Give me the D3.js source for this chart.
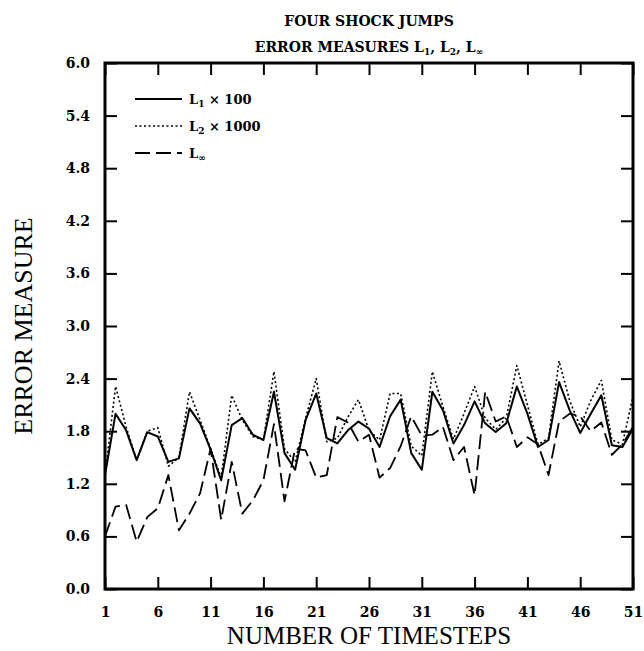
<!DOCTYPE html>
<html>
<head>
<meta charset="utf-8">
<script src="https://cdn.jsdelivr.net/npm/d3@7"></script>
<style>
  html, body { margin: 0; padding: 0; background: #fff; }
  svg { display: block; }
</style>
</head>
<body>
<svg id="chart" width="644" height="651"></svg>
<script>
// ---- data ----
const timesteps = d3.range(1, 52);
const L1x100 = [1.30,2.00,1.81,1.47,1.79,1.74,1.45,1.49,2.06,1.89,
                1.59,1.24,1.87,1.95,1.76,1.70,2.25,1.55,1.36,1.93,
                2.23,1.72,1.66,1.81,1.91,1.83,1.62,1.97,2.16,1.55,
                1.36,2.25,2.04,1.66,1.87,2.14,1.89,1.79,1.89,2.31,
                2.00,1.62,1.70,2.36,2.04,1.78,2.00,2.21,1.64,1.62,1.83];
const L2x1000 = [1.30,2.31,1.85,1.47,1.80,1.84,1.40,1.50,2.25,1.93,
                 1.60,1.27,2.21,1.93,1.74,1.70,2.48,1.60,1.45,1.95,
                 2.40,1.68,1.72,1.96,2.16,1.81,1.70,2.23,2.23,1.63,
                 1.52,2.48,2.08,1.71,2.00,2.31,1.95,1.82,1.95,2.55,
                 2.10,1.65,1.72,2.60,2.15,1.85,2.15,2.38,1.70,1.65,2.20];
const Linf = [0.60,0.94,0.96,0.54,0.82,0.92,1.30,0.67,0.86,1.09,
              1.60,0.79,1.45,0.86,1.01,1.24,1.88,1.00,1.60,1.58,
              1.27,1.30,1.96,1.90,1.68,1.76,1.27,1.38,1.63,1.97,
              1.75,1.76,1.85,1.47,1.62,1.07,2.25,1.91,1.97,1.62,
              1.73,1.65,1.30,1.91,2.00,1.97,1.80,1.90,1.53,1.65,1.85];
const xTicks = [1, 6, 11, 16, 21, 26, 31, 36, 41, 46, 51];
const yTicks = [0.0, 0.6, 1.2, 1.8, 2.4, 3.0, 3.6, 4.2, 4.8, 5.4, 6.0];
const legendItems = [
  {base: "L", sub: "1", rest: " × 100", style: "solid"},
  {base: "L", sub: "2", rest: " × 1000", style: "dotted"},
  {base: "L", sub: "∞", rest: "", style: "dashed"}
];

(function () {
// ---- layout ----
const svg = d3.select("#chart");
const pL = 105, pR = 633, pT = 63, pB = 589;
const x = d3.scaleLinear().domain([1, 51]).range([pL, pR]);
const y = d3.scaleLinear().domain([0, 6]).range([pB, pT]);

const dashFor = {solid: null, dotted: "2,2.5", dashed: "15,6"};
const widthFor = {solid: 2, dotted: 1.6, dashed: 1.8};

const tickFont = "'DejaVu Serif', serif";

// axes
const gL = svg.append("g").attr("transform", `translate(${pL},0)`)
  .call(d3.axisLeft(y).tickValues(yTicks).tickFormat(d3.format(".1f")).tickSizeInner(-12).tickSizeOuter(0).tickPadding(15));
const gB = svg.append("g").attr("transform", `translate(0,${pB})`)
  .call(d3.axisBottom(x).tickValues(xTicks).tickFormat(d3.format("d")).tickSizeInner(-12).tickSizeOuter(0).tickPadding(18));
const gT = svg.append("g").attr("transform", `translate(0,${pT})`)
  .call(d3.axisTop(x).tickValues(xTicks).tickFormat("").tickSizeInner(-12).tickSizeOuter(0));
const gR = svg.append("g").attr("transform", `translate(${pR},0)`)
  .call(d3.axisRight(y).tickValues(yTicks).tickFormat("").tickSizeInner(-12).tickSizeOuter(0));
[gL, gB, gT, gR].forEach(g => {
  g.select(".domain").remove();
  g.selectAll(".tick line").attr("stroke", "#000").attr("stroke-width", 2);
  g.selectAll(".tick text").attr("fill", "#000")
    .style("font-family", tickFont).style("font-weight", "bold").style("font-size", "14px");
});

// frame
svg.append("rect").attr("x", pL).attr("y", pT)
  .attr("width", pR - pL).attr("height", pB - pT)
  .attr("fill", "none").attr("stroke", "#000").attr("stroke-width", 3);

// series
const series = [
  {values: L1x100, style: "solid"},
  {values: L2x1000, style: "dotted"},
  {values: Linf, style: "dashed"}
];
const line = d3.line().x((d, i) => x(timesteps[i])).y(d => y(d));
series.forEach(s => {
  svg.append("path").datum(s.values)
    .attr("d", line).attr("fill", "none").attr("stroke", "#000")
    .attr("stroke-width", widthFor[s.style])
    .attr("stroke-dasharray", dashFor[s.style])
    .attr("stroke-linejoin", "round");
});

// legend
const lg = svg.append("g");
legendItems.forEach((it, i) => {
  const ly = 99 + i * 27;
  lg.append("line").attr("x1", 135).attr("x2", 182).attr("y1", ly).attr("y2", ly)
    .attr("stroke", "#000").attr("stroke-width", widthFor[it.style])
    .attr("stroke-dasharray", dashFor[it.style]);
  const t = lg.append("text").attr("x", 189).attr("y", ly + 5)
    .style("font-family", tickFont).style("font-weight", "bold").style("font-size", "13px");
  t.append("tspan").text(it.base);
  t.append("tspan").attr("dy", 3).style("font-size", "9px").text(it.sub);
  t.append("tspan").attr("dy", -3).text(it.rest);
});

// titles
const cx = (pL + pR) / 2;
svg.append("text").attr("x", cx).attr("y", 26).attr("text-anchor", "middle")
  .style("font-family", tickFont).style("font-weight", "bold").style("font-size", "14px")
  .text("FOUR SHOCK JUMPS");
const t2 = svg.append("text").attr("x", cx).attr("y", 52).attr("text-anchor", "middle")
  .style("font-family", tickFont).style("font-weight", "bold").style("font-size", "14px");
t2.append("tspan").text("ERROR MEASURES L");
t2.append("tspan").attr("dy", 3).style("font-size", "9px").text("1");
t2.append("tspan").attr("dy", -3).text(", L");
t2.append("tspan").attr("dy", 3).style("font-size", "9px").text("2");
t2.append("tspan").attr("dy", -3).text(", L");
t2.append("tspan").attr("dy", 3).style("font-size", "9px").text("∞");

svg.append("text").attr("x", cx).attr("y", 644).attr("text-anchor", "middle")
  .style("font-family", "'Liberation Serif', serif").style("font-size", "25px")
  .text("NUMBER OF TIMESTEPS");
svg.append("text").attr("transform", `translate(32,${(pT + pB) / 2}) rotate(-90)`)
  .attr("text-anchor", "middle")
  .style("font-family", "'Liberation Serif', serif").style("font-size", "26px")
  .text("ERROR MEASURE");
})();
</script>
</body>
</html>
